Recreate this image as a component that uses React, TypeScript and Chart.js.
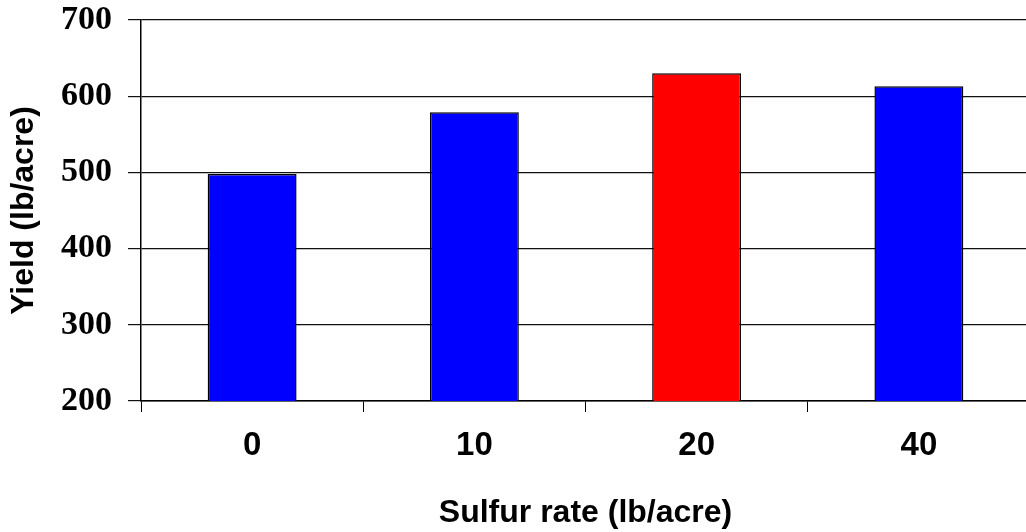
import React, { useEffect, useRef } from "react";
import { Chart, registerables } from "chart.js";

Chart.register(...registerables);

const categories = ["0", "10", "20", "40"];
const yieldValues = [498, 579, 630, 613];
const barColors = ["#0000FF", "#0000FF", "#FF0000", "#0000FF"];
const yMin = 200;
const yMax = 700;
const yStep = 100;
const xTitle = "Sulfur rate (lb/acre)";
const yTitle = "Yield (lb/acre)";

export default function App() {
  const ref = useRef<HTMLCanvasElement | null>(null);
  useEffect(() => {
    if (!ref.current) return;
    const chart = new Chart(ref.current, {
      type: "bar",
      data: {
        labels: categories,
        datasets: [
          {
            data: yieldValues,
            backgroundColor: barColors,
            borderColor: "#000000",
            borderWidth: 1.5,
            borderSkipped: false,
            barPercentage: 0.4,
            categoryPercentage: 1,
          },
        ],
      },
      options: {
        animation: false,
        responsive: true,
        maintainAspectRatio: false,
        layout: { padding: { top: 0, left: 0, right: 0, bottom: 0 } },
        plugins: { legend: { display: false }, tooltip: { enabled: false } },
        scales: {
          x: {
            grid: {
              display: true,
              drawOnChartArea: false,
              drawTicks: true,
              tickLength: 11,
              color: "#000000",
              lineWidth: 1,
              offset: true,
            },
            border: { display: true, color: "#000000", width: 1.5 },
            ticks: {
              color: "#000000",
              font: { family: "'Liberation Sans', Arial, sans-serif", size: 33, weight: "bold" },
              padding: 14,
            },
            title: {
              display: true,
              text: xTitle,
              color: "#000000",
              font: { family: "'Liberation Sans', Arial, sans-serif", size: 32, weight: "bold" },
              padding: { top: 12, bottom: 0 },
            },
            afterFit: (scale: any) => {
              scale.height = 131;
            },
          },
          y: {
            min: yMin,
            max: yMax,
            grid: {
              display: true,
              drawOnChartArea: true,
              drawTicks: true,
              tickLength: 13,
              color: "#111111",
              lineWidth: 1.2,
            },
            border: { display: true, color: "#000000", width: 1.5 },
            ticks: {
              stepSize: yStep,
              color: "#000000",
              font: { family: "'Liberation Serif', 'Times New Roman', serif", size: 34, weight: "bold", lineHeight: 1.15 },
              padding: 16,
            },
            title: {
              display: true,
              text: yTitle,
              color: "#000000",
              font: { family: "'Liberation Sans', Arial, sans-serif", size: 32, weight: "bold" },
              padding: { top: 5, bottom: 0 },
            },
            afterFit: (scale: any) => {
              scale.width = 141;
              scale.paddingTop = 20;
              scale.paddingBottom = 0;
            },
          },
        },
      },
    });
    return () => chart.destroy();
  }, []);
  return (
    <div style={{ position: "fixed", left: 0, top: 0, width: 1026, height: 532, overflow: "hidden", background: "#fff" }}>
      <div style={{ position: "absolute", left: 0, top: 0, width: 1030, height: 532 }}>
        <canvas ref={ref} />
      </div>
    </div>
  );
}
